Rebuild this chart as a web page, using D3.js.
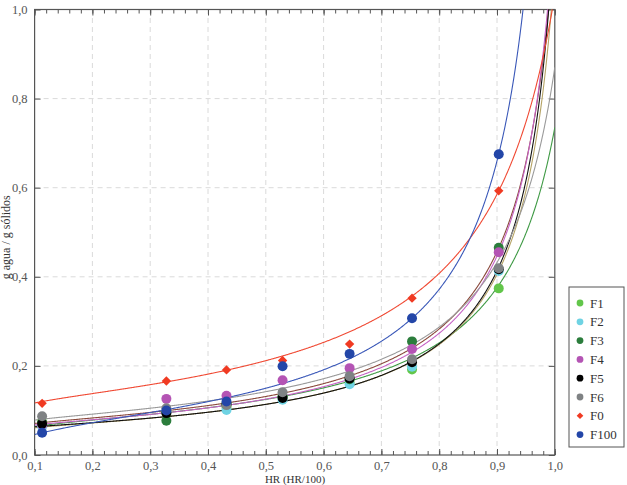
<!DOCTYPE html>
<html><head><meta charset="utf-8">
<script src="https://cdn.jsdelivr.net/npm/d3@7"></script>
<style>body{margin:0;background:#fff}svg{display:block}</style>
</head><body>
<script>
const aw = [0.113, 0.328, 0.432, 0.529, 0.645, 0.753, 0.903];
const seriesNames = ["F1","F2","F3","F4","F5","F6","F0","F100"];
const F1 = [0.074, 0.095, 0.108, 0.130, 0.162, 0.192, 0.374];
const F2 = [0.064, 0.097, 0.101, 0.124, 0.159, 0.198, 0.413];
const F3 = [0.072, 0.077, 0.115, 0.132, 0.170, 0.255, 0.465];
const F4 = [0.068, 0.126, 0.133, 0.168, 0.195, 0.238, 0.455];
const F5 = [0.070, 0.094, 0.114, 0.128, 0.172, 0.208, 0.417];
const F6 = [0.087, 0.105, 0.112, 0.141, 0.177, 0.215, 0.419];
const F0 = [0.116, 0.166, 0.191, 0.212, 0.249, 0.352, 0.593];
const F100 = [0.050, 0.100, 0.120, 0.199, 0.227, 0.307, 0.675];
const seriesValues = [F1,F2,F3,F4,F5,F6,F0,F100];
// GAB model parameters of the fitted curves
const gabXm = [0.070, 0.0607, 0.0704, 0.0669, 0.0600, 0.0784, 0.120, 0.0871];
const gabC  = [50, 100, 100, 100, 200, 100, 81, 8.53];
const gabK  = [0.905, 0.945, 0.940, 0.945, 0.950, 0.910, 0.884, 0.967];
const xTicks = [0.1,0.2,0.3,0.4,0.5,0.6,0.7,0.8,0.9,1.0];
const yTicks = [0,0.2,0.4,0.6,0.8,1.0];
const markerColors = ["#62c64a","#6fd3e3","#2b7d3c","#b454b4","#000000","#7f8284","#f03a22","#2346a8"];
const lineColors = ["#3f9a45","#b6a466","#8a4a3c","#c663c6","#111111","#9a9a9a","#f04a34","#3a58b8"];
const markerShapes = ["circle","circle","circle","circle","circle","circle","diamond","circle"];

const W = 627, H = 485;
const serif = "Liberation Serif";
const svg = d3.select("body").append("svg").attr("width", W).attr("height", H)
  .attr("font-family", serif);
const x = d3.scaleLinear().domain([0.1, 1.0]).range([34.6, 554.8]);
const y = d3.scaleLinear().domain([0, 1.0]).range([455, 9.5]);
const fmt = d => d3.format(".1f")(d).replace(".", ",");

svg.append("defs").append("clipPath").attr("id","clip").append("rect")
  .attr("x", x(0.1)).attr("y", y(1)).attr("width", x(1)-x(0.1)).attr("height", y(0)-y(1));

// grid
const grid = svg.append("g");
grid.selectAll("line.vx").data(xTicks.slice(1,-1)).join("line")
  .attr("x1", d=>x(d)).attr("x2", d=>x(d)).attr("y1", y(0)).attr("y2", y(1))
  .attr("stroke","#dadada").attr("stroke-dasharray","5,4").attr("stroke-width",1);
grid.selectAll("line.hy").data(yTicks.slice(1,-1)).join("line")
  .attr("y1", d=>y(d)).attr("y2", d=>y(d)).attr("x1", x(0.1)).attr("x2", x(1))
  .attr("stroke","#dadada").attr("stroke-dasharray","5,4").attr("stroke-width",1);

// axes (inward ticks)
const frameColor = "#555";
const minorX = d3.range(0.1, 1.0001, 0.02);
function styleAxis(g){
  g.attr("font-family", serif);
  g.select(".domain").remove();
  g.selectAll("line").attr("stroke", frameColor);
  g.selectAll("text").attr("font-size","12.5px").attr("font-family", serif).attr("fill","#555");
}
svg.append("g").attr("transform",`translate(0,${y(0)})`)
  .call(d3.axisBottom(x).tickValues(minorX).tickSize(-4).tickFormat(""))
  .call(styleAxis);
svg.append("g").attr("transform",`translate(0,${y(0)})`)
  .call(d3.axisBottom(x).tickValues(xTicks).tickSize(-6).tickPadding(6).tickFormat(fmt))
  .call(styleAxis);
svg.append("g").attr("transform",`translate(0,${y(1)})`)
  .call(d3.axisTop(x).tickValues(minorX).tickSize(-4).tickFormat(""))
  .call(styleAxis);
svg.append("g").attr("transform",`translate(0,${y(1)})`)
  .call(d3.axisTop(x).tickValues(xTicks).tickSize(-6).tickFormat(""))
  .call(styleAxis);
svg.append("g").attr("transform",`translate(${x(0.1)},0)`)
  .call(d3.axisLeft(y).tickValues(yTicks).tickSize(-6).tickPadding(7).tickFormat(fmt))
  .call(styleAxis);
svg.append("g").attr("transform",`translate(${x(1)},0)`)
  .call(d3.axisRight(y).tickValues(yTicks).tickSize(-6).tickFormat(""))
  .call(styleAxis);
svg.append("rect").attr("x", x(0.1)).attr("y", y(1)).attr("width", x(1)-x(0.1)).attr("height", y(0)-y(1))
  .attr("fill","none").attr("stroke", frameColor).attr("stroke-width",1.2);

// axis titles
svg.append("text").attr("transform",`translate(10,${(y(0)+y(1))/2+5}) rotate(-90)`)
  .attr("text-anchor","middle").attr("font-size","12px").attr("font-family", serif).attr("fill","#333").text("g agua / g sólidos");
svg.append("text").attr("x", 295).attr("y", 482.6).attr("text-anchor","middle")
  .attr("font-size","11px").attr("font-family", serif).attr("fill","#333").text("HR (HR/100)");

// fitted curves
const gab = i => a => gabXm[i]*gabC[i]*gabK[i]*a / ((1-gabK[i]*a)*(1-gabK[i]*a+gabC[i]*gabK[i]*a));
const curveA = d3.range(0.1, 1.0001, 0.001);
const line = d3.line().x(d=>x(d[0])).y(d=>y(d[1]));
const curves = svg.append("g").attr("clip-path","url(#clip)");
seriesNames.forEach((n,i)=>{
  const f = gab(i);
  const pts = [];
  for (const a of curveA){ const v = f(a); if (v>0 && v<1.3) pts.push([a,v]); else { pts.push([a,1.3]); break; } }
  curves.append("path").datum(pts).attr("d", line).attr("fill","none")
    .attr("stroke", lineColors[i]).attr("stroke-width",1.1);
});

// points
const markerPath = (shape, big) => shape==="diamond"
  ? d3.symbol(d3.symbolSquare, big ? 44 : 22)()
  : d3.symbol(d3.symbolCircle, big ? 78 : 36)();
const pg = svg.append("g");
seriesNames.forEach((n,i)=>{
  pg.selectAll(null).data(aw.map((a,j)=>[a, seriesValues[i][j]])).join("path")
    .attr("transform", d=>`translate(${x(d[0])},${y(d[1])})` + (markerShapes[i]==="diamond" ? " rotate(45)" : ""))
    .attr("d", markerPath(markerShapes[i], true))
    .attr("fill", markerColors[i]);
});

// legend
const lg = svg.append("g");
lg.append("rect").attr("x",569).attr("y",287).attr("width",55).attr("height",160)
  .attr("fill","#fff").attr("stroke","#555").attr("stroke-width",1);
seriesNames.forEach((n,i)=>{
  const cy = 303 + i*18.8;
  lg.append("path").attr("transform",`translate(580,${cy})` + (markerShapes[i]==="diamond" ? " rotate(45)" : ""))
    .attr("d", markerPath(markerShapes[i], false))
    .attr("fill", markerColors[i]);
  lg.append("text").attr("x",590).attr("y",cy+4.5).attr("font-size","13px").attr("font-family", serif).attr("fill","#333").text(n);
});
</script>
</body></html>
